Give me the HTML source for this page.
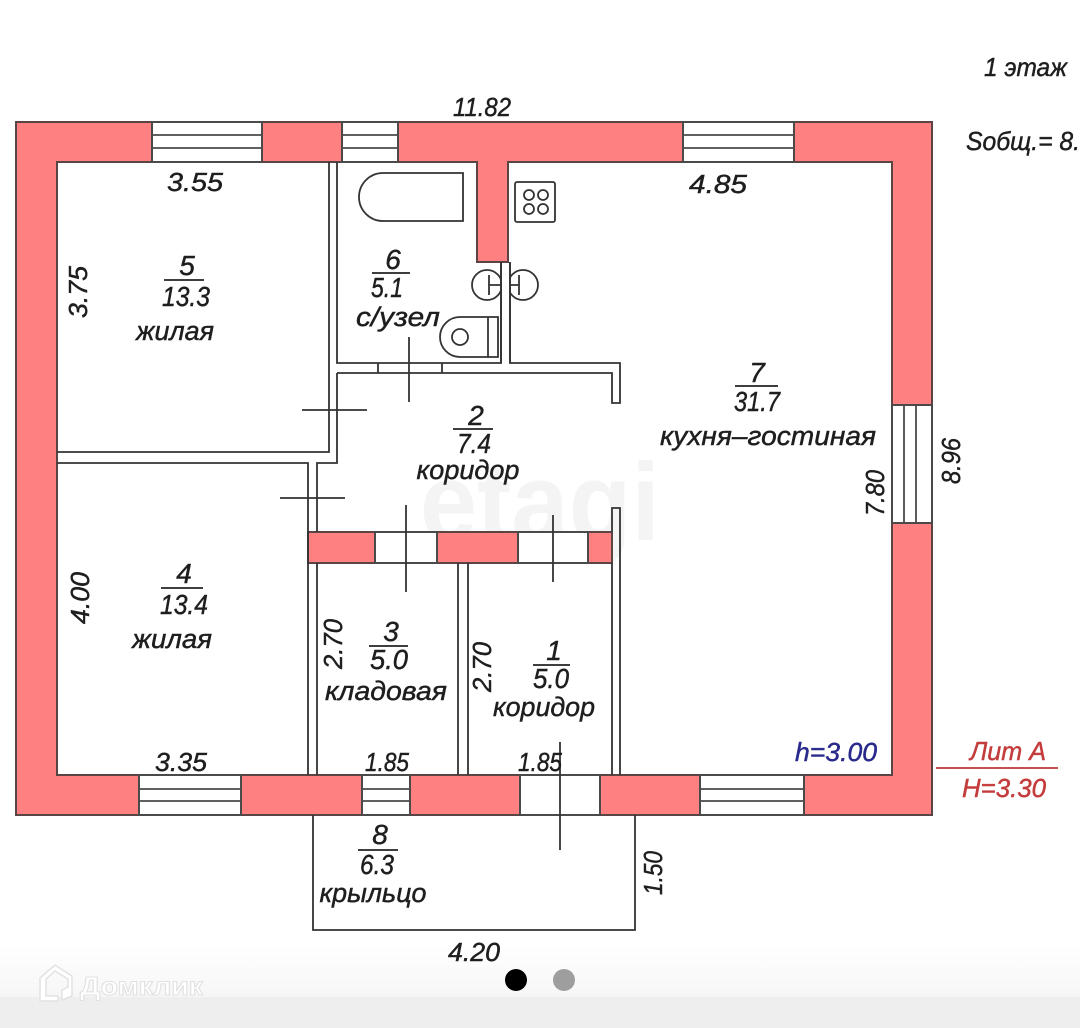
<!DOCTYPE html>
<html>
<head>
<meta charset="utf-8">
<style>
  html,body{margin:0;padding:0;background:#fff;overflow:hidden;}
  svg{display:block;}
  .t{font-family:"Liberation Sans","DejaVu Sans",sans-serif;font-style:italic;fill:#1e1e1e;stroke:#1e1e1e;stroke-width:0.45;}
</style>
</head>
<body>
<svg width="1080" height="1028" viewBox="0 0 1080 1028" xmlns="http://www.w3.org/2000/svg">
  <defs>
    <linearGradient id="bg" x1="0" y1="0" x2="0" y2="1">
      <stop offset="0" stop-color="#ffffff"/>
      <stop offset="1" stop-color="#f6f6f6"/>
    </linearGradient>
  </defs>
  <rect x="0" y="0" width="1080" height="1028" fill="#ffffff"/>
  <rect x="0" y="945" width="1080" height="52" fill="url(#bg)"/>
  <rect x="0" y="997" width="1080" height="31" fill="#eeeeee"/>

  <!-- watermark -->
  <text x="540" y="540" text-anchor="middle" font-family="Liberation Sans, sans-serif" font-weight="bold" font-size="110" fill="#f4f4f4" textLength="240" lengthAdjust="spacingAndGlyphs">etagi</text>

  <!-- outer walls with partition -->
  <path d="M16,122 H932 V815 H16 Z M57,162 V775 H892 V162 H508 V262 H477 V162 Z" fill="#ff8080" fill-rule="evenodd" stroke="#5a4444" stroke-width="2"/>

  <!-- windows / door openings -->
  <g fill="#ffffff" stroke="#4a4a4a" stroke-width="2">
    <rect x="152" y="122" width="110" height="40"/>
    <rect x="342" y="122" width="56" height="40"/>
    <rect x="683" y="122" width="111" height="40"/>
    <rect x="892" y="405" width="40" height="118"/>
    <rect x="139" y="775" width="102" height="40"/>
    <rect x="362" y="775" width="48" height="40"/>
    <rect x="520" y="775" width="80" height="40"/>
    <rect x="700" y="775" width="104" height="40"/>
  </g>
  <g stroke="#4a4a4a" stroke-width="1.8" fill="none">
    <path d="M152,135 H262 M152,148 H262"/>
    <path d="M342,135 H398 M342,148 H398"/>
    <path d="M683,135 H794 M683,148 H794"/>
    <path d="M904,405 V523 M916,405 V523"/>
    <path d="M139,789 H241 M139,801 H241"/>
    <path d="M362,789 H410 M362,801 H410"/>
    <path d="M700,789 H804 M700,801 H804"/>
  </g>

  <!-- red band between corridor and storage/corridor1 -->
  <rect x="308" y="532" width="304" height="31" fill="#ff8080" stroke="#5a4444" stroke-width="2"/>
  <g fill="#ffffff" stroke="#4a4a4a" stroke-width="2">
    <rect x="375" y="532" width="62" height="31"/>
    <rect x="518" y="532" width="70" height="31"/>
  </g>

  <!-- interior thin walls -->
  <g stroke="#333" stroke-width="1.8" fill="none" stroke-linejoin="miter">
    <path d="M329,162 V452 H57"/>
    <path d="M337,162 V363 H501 V262"/>
    <path d="M337,373 H612 V403 H620 V363 H510 V262"/>
    <path d="M337,373 V463 H317 V532"/>
    <path d="M57,463 H308 V775"/>
    <path d="M317,563 V775"/>
    <path d="M458,563 V775 M468,563 V775"/>
    <path d="M612,532 V508 H620 V775 M612,563 V775"/>
    <path d="M313,815 V930 H635 V815"/>
    <path d="M378,363 V373 M442,363 V373"/>
    <path d="M409,337 V402"/>
    <path d="M302,410 H367"/>
    <path d="M280,498 H345"/>
    <path d="M406,505 V592"/>
    <path d="M553,515 V582"/>
    <path d="M560,742 V850"/>
  </g>

  <!-- fixtures -->
  <g stroke="#333" stroke-width="1.8" fill="none">
    <path d="M383,173 H463 V221 H383 A24,24 0 0 1 383,173 Z"/>
    <rect x="515" y="182" width="40" height="40" rx="2"/>
    <circle cx="529" cy="195" r="5"/>
    <circle cx="543" cy="195" r="5"/>
    <circle cx="529" cy="209" r="5"/>
    <circle cx="543" cy="209" r="5"/>
    <circle cx="487" cy="285" r="15"/>
    <circle cx="523" cy="285" r="15"/>
    <path d="M489,275 V295 M489,285 H501"/>
    <path d="M519,275 V295 M510,285 H519"/>
    <path d="M460,317 H498 V357 H460 A20,20 0 0 1 460,317 Z"/>
    <path d="M488,317 V357"/>
    <circle cx="460" cy="337" r="8"/>
  </g>
  <rect x="502" y="268" width="7" height="34" fill="#fff"/>
  <path d="M501,262 V363 M510,262 V363" stroke="#333" stroke-width="1.8"/>

  <!-- fraction lines -->
  <g stroke="#222" stroke-width="1.8">
    <path d="M164,280 H204"/>
    <path d="M161,588 H203"/>
    <path d="M372,273 H410"/>
    <path d="M453,429 H493"/>
    <path d="M735,386 H778"/>
    <path d="M369,646 H408"/>
    <path d="M533,665 H570"/>
    <path d="M358,850 H398"/>
  </g>

  <!-- dimension texts -->
  <g class="t" font-size="26" text-anchor="middle">
    <text x="482" y="116" textLength="58" lengthAdjust="spacingAndGlyphs">11.82</text>
    <text x="195" y="191" textLength="56" lengthAdjust="spacingAndGlyphs">3.55</text>
    <text x="718" y="193" textLength="58" lengthAdjust="spacingAndGlyphs">4.85</text>
    <text x="181" y="771" textLength="52" lengthAdjust="spacingAndGlyphs">3.35</text>
    <text x="387" y="771" textLength="44" lengthAdjust="spacingAndGlyphs">1.85</text>
    <text x="540" y="771" textLength="44" lengthAdjust="spacingAndGlyphs">1.85</text>
    <text x="474" y="961" textLength="52" lengthAdjust="spacingAndGlyphs">4.20</text>
    <g transform="translate(78,292) rotate(-90)"><text x="0" y="9" textLength="52" lengthAdjust="spacingAndGlyphs">3.75</text></g>
    <g transform="translate(80,598) rotate(-90)"><text x="0" y="9" textLength="52" lengthAdjust="spacingAndGlyphs">4.00</text></g>
    <g transform="translate(333,644) rotate(-90)"><text x="0" y="9" textLength="50" lengthAdjust="spacingAndGlyphs">2.70</text></g>
    <g transform="translate(482,667) rotate(-90)"><text x="0" y="9" textLength="50" lengthAdjust="spacingAndGlyphs">2.70</text></g>
    <g transform="translate(875,493) rotate(-90)"><text x="0" y="9" textLength="46" lengthAdjust="spacingAndGlyphs">7.80</text></g>
    <g transform="translate(951,461) rotate(-90)"><text x="0" y="9" textLength="46" lengthAdjust="spacingAndGlyphs">8.96</text></g>
    <g transform="translate(653,873) rotate(-90)"><text x="0" y="9" textLength="44" lengthAdjust="spacingAndGlyphs">1.50</text></g>
  </g>

  <!-- room labels -->
  <g class="t" text-anchor="middle">
    <text x="187" y="275" font-size="28">5</text>
    <text x="186" y="306" font-size="28" textLength="48" lengthAdjust="spacingAndGlyphs">13.3</text>
    <text x="175" y="340" font-size="27" textLength="78" lengthAdjust="spacingAndGlyphs">жилая</text>

    <text x="184" y="583" font-size="28">4</text>
    <text x="184" y="614" font-size="28" textLength="48" lengthAdjust="spacingAndGlyphs">13.4</text>
    <text x="172" y="648" font-size="27" textLength="80" lengthAdjust="spacingAndGlyphs">жилая</text>

    <text x="393" y="269" font-size="28">6</text>
    <text x="387" y="297" font-size="28" textLength="32" lengthAdjust="spacingAndGlyphs">5.1</text>
    <text x="398" y="326" font-size="27" textLength="84" lengthAdjust="spacingAndGlyphs">с/узел</text>

    <text x="476" y="425" font-size="28">2</text>
    <text x="474" y="453" font-size="28" textLength="34" lengthAdjust="spacingAndGlyphs">7.4</text>
    <text x="468" y="479" font-size="27" textLength="103" lengthAdjust="spacingAndGlyphs">коридор</text>

    <text x="757" y="382" font-size="28">7</text>
    <text x="757" y="411" font-size="28" textLength="46" lengthAdjust="spacingAndGlyphs">31.7</text>
    <text x="768" y="445" font-size="27" textLength="216" lengthAdjust="spacingAndGlyphs">кухня–гостиная</text>

    <text x="391" y="641" font-size="28">3</text>
    <text x="389" y="669" font-size="28" textLength="38" lengthAdjust="spacingAndGlyphs">5.0</text>
    <text x="386" y="700" font-size="27" textLength="122" lengthAdjust="spacingAndGlyphs">кладовая</text>

    <text x="554" y="660" font-size="28">1</text>
    <text x="551" y="688" font-size="28" textLength="36" lengthAdjust="spacingAndGlyphs">5.0</text>
    <text x="544" y="716" font-size="27" textLength="102" lengthAdjust="spacingAndGlyphs">коридор</text>

    <text x="380" y="844" font-size="28">8</text>
    <text x="377" y="874" font-size="28" textLength="34" lengthAdjust="spacingAndGlyphs">6.3</text>
    <text x="373" y="902" font-size="27" textLength="107" lengthAdjust="spacingAndGlyphs">крыльцо</text>
  </g>

  <!-- top right texts -->
  <g class="t">
    <text x="984" y="76" font-size="26" textLength="83" lengthAdjust="spacingAndGlyphs">1 этаж</text>
    <text x="966" y="150" font-size="26" textLength="114" lengthAdjust="spacingAndGlyphs">Sобщ.= 8.</text>
  </g>

  <!-- heights -->
  <text class="t" x="795" y="761" font-size="26" textLength="82" lengthAdjust="spacingAndGlyphs" style="fill:#2a2a8c;stroke:#2a2a8c">h=3.00</text>
  <text class="t" x="970" y="760" font-size="26" textLength="76" lengthAdjust="spacingAndGlyphs" style="fill:#c43c3c;stroke:#c43c3c">Лит А</text>
  <path d="M936,768 H1058" stroke="#c45050" stroke-width="2"/>
  <text class="t" x="962" y="797" font-size="26" textLength="84" lengthAdjust="spacingAndGlyphs" style="fill:#c43c3c;stroke:#c43c3c">H=3.30</text>

  <!-- logo -->
  <g fill="#ffffff" stroke="#e2e2e2" stroke-width="1.5">
    <path d="M40,978 L55,965 L72,976 L72,996 L62,1000 L62,990 L68,987 L68,979 L55,971 L46,979 L46,996 L58,996 L58,1001 L40,1001 Z"/>
  </g>
  <text x="80" y="995" font-family="Liberation Sans, sans-serif" font-weight="bold" font-size="26" fill="#ffffff" stroke="#e0e0e0" stroke-width="1" textLength="123" lengthAdjust="spacingAndGlyphs">Домклик</text>

  <!-- pager dots -->
  <circle cx="516" cy="980" r="11" fill="#000"/>
  <circle cx="564" cy="980" r="11" fill="#9e9e9e"/>
</svg>
</body>
</html>
